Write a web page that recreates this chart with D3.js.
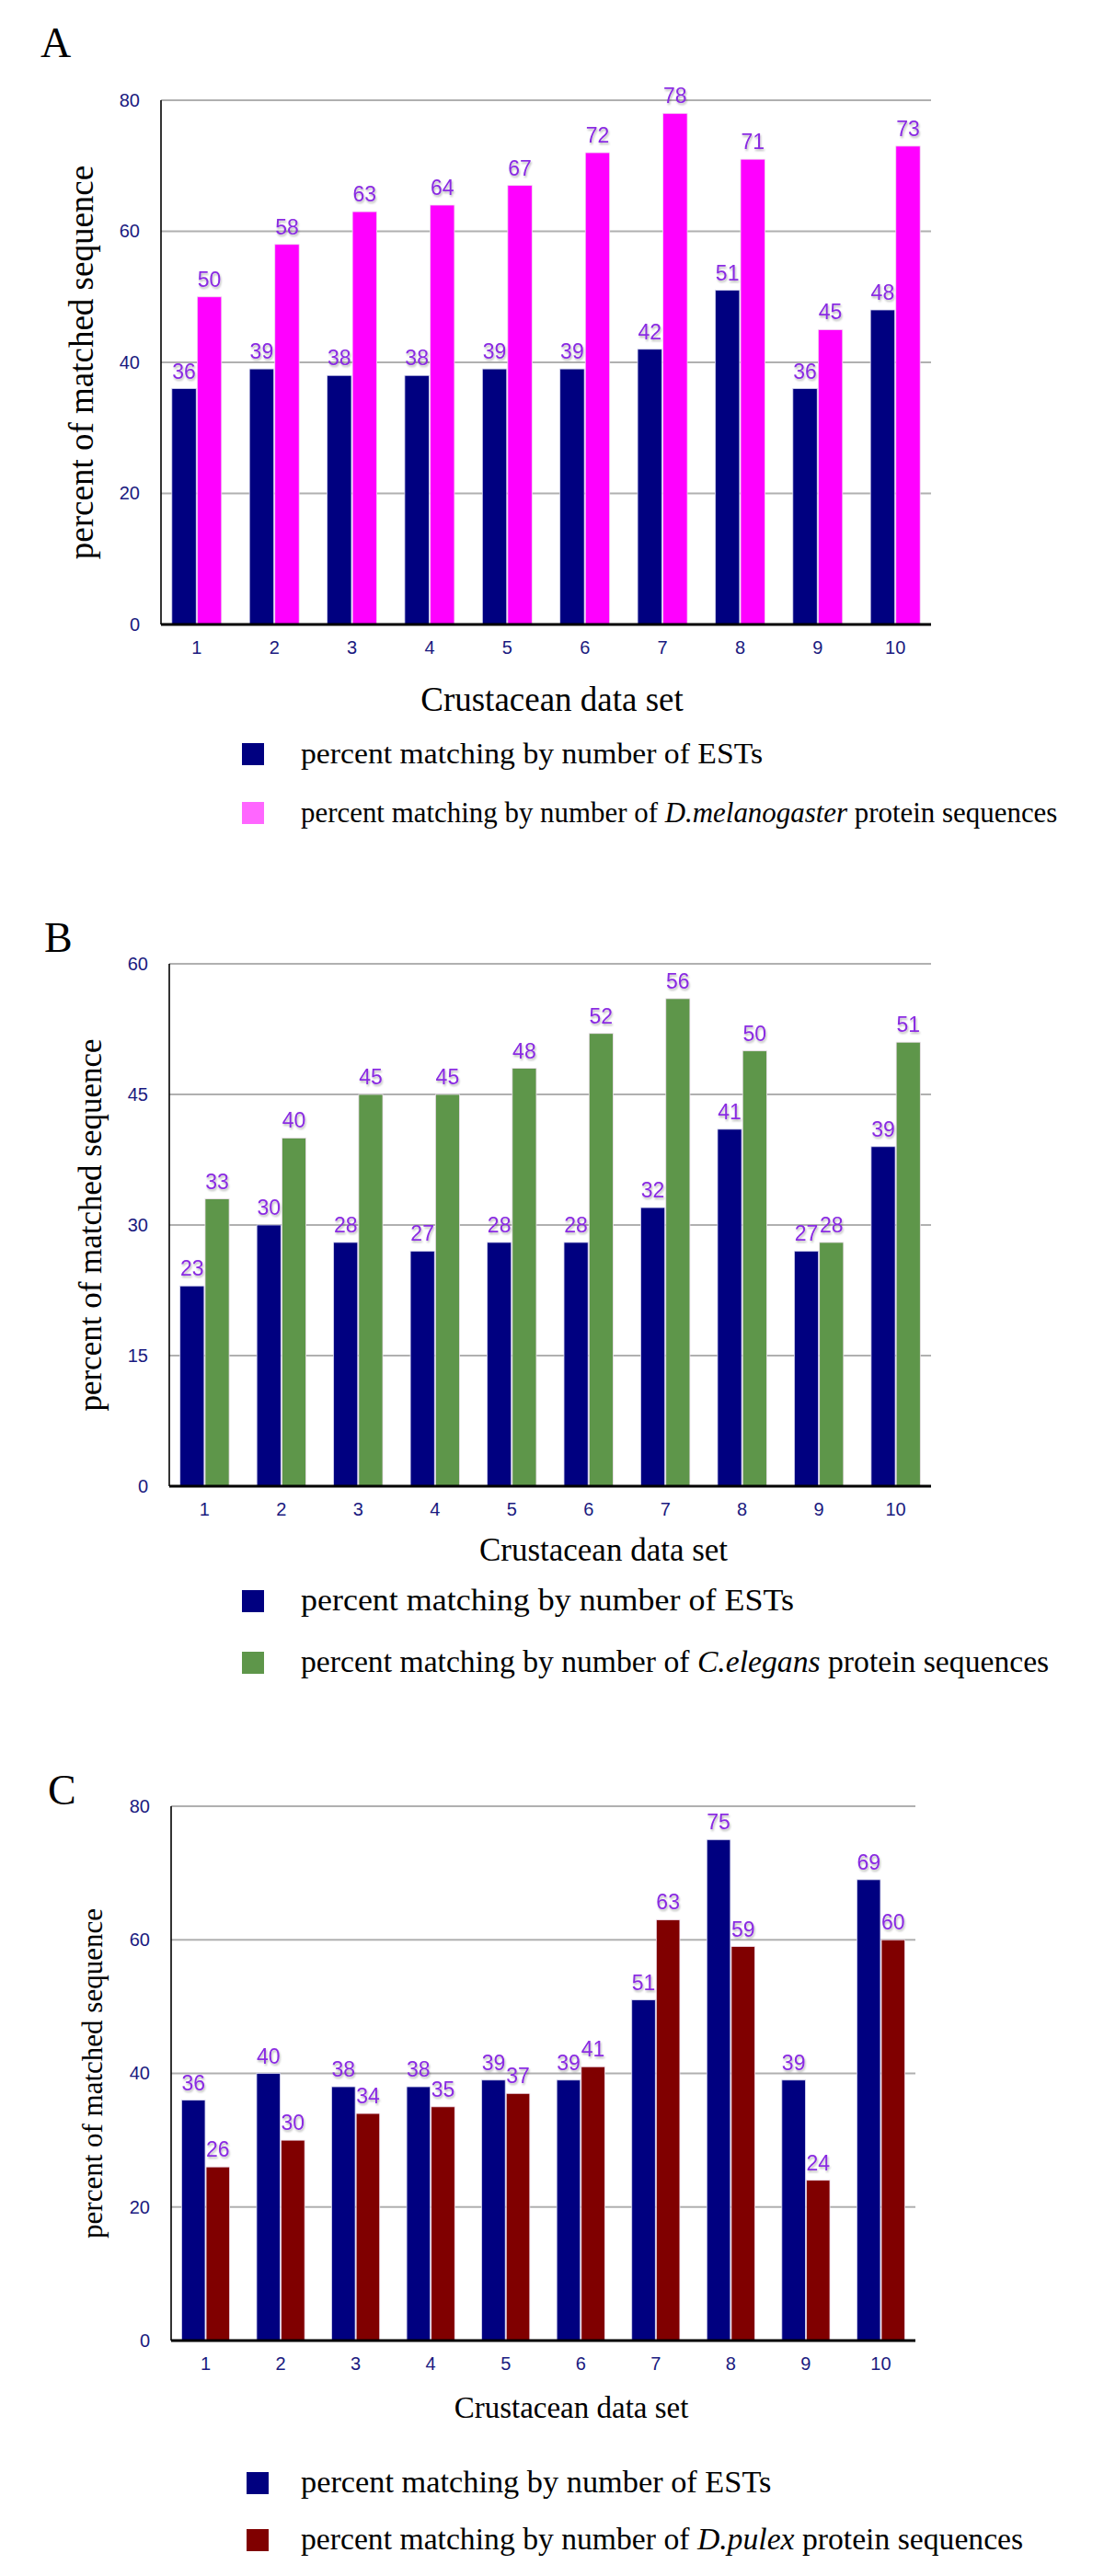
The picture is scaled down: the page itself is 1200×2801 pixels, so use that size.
<!DOCTYPE html>
<html><head><meta charset="utf-8">
<script src="https://cdn.jsdelivr.net/npm/d3@7"></script>
<style>body{margin:0;background:#fff} svg{display:block}</style>
</head><body><svg id="c" width="1200" height="2801"></svg>
<script>
// ---------- data ----------
const categories = ["1","2","3","4","5","6","7","8","9","10"];
const estA = [36,39,38,38,39,39,42,51,36,48];
const melA = [50,58,63,64,67,72,78,71,45,73];
const ticksA = [0,20,40,60,80];
const estB = [23,30,28,27,28,28,32,41,27,39];
const eleB = [33,40,45,45,48,52,56,50,28,51];
const ticksB = [0,15,30,45,60];
const estC = [36,40,38,38,39,39,51,75,39,69];
const pulC = [26,30,34,35,37,41,63,59,24,60];
const ticksC = [0,20,40,60,80];
const panelLetters = ["A","B","C"];
const yTitle = "percent of matched sequence";
const xTitle = "Crustacean data set";
const legendEST = "percent matching by number of ESTs";
const legendProtA = ["percent matching by number of ", "D.melanogaster", " protein sequences"];
const legendProtB = ["percent matching by number of ", "C.elegans", " protein sequences"];
const legendProtC = ["percent matching by number of ", "D.pulex", " protein sequences"];

// ---------- layout / style ----------
const svg = d3.select("#c");
const defs = svg.append("defs");
const f = defs.append("filter").attr("id","sh").attr("x","-20%").attr("y","-20%").attr("width","150%").attr("height","160%");
f.append("feDropShadow").attr("dx",1).attr("dy",2).attr("stdDeviation",1.2).attr("flood-color","#000").attr("flood-opacity",0.28);

const navy = "#000080";
const panels = [
  {letter:panelLetters[0], lx:44, ly:62, left:175, right:1012, top:109, bottom:679, ticks:ticksA, est:estA, prot:melA,
   col:"#ff00ff", swatch:"#ff66ff", leg:legendProtA, ylx:93, ylSize:37, titleX:600, titleY:773, titleSize:37,
   legX:263, legTextX:327, leg1Y:808, leg2Y:872, legSize:32, w1:1.053, w2:0.966},
  {letter:panelLetters[1], lx:48, ly:1035, left:184, right:1012, top:1048, bottom:1616, ticks:ticksB, est:estB, prot:eleB,
   col:"#5e964a", swatch:"#5e964a", leg:legendProtB, ylx:102, ylSize:35, titleX:656, titleY:1697, titleSize:35,
   legX:263, legTextX:327, leg1Y:1729, leg2Y:1796, legSize:33, w1:1.09, w2:1.02},
  {letter:panelLetters[2], lx:52, ly:1962, left:186, right:995, top:1964, bottom:2545, ticks:ticksC, est:estC, prot:pulC,
   col:"#800000", swatch:"#800000", leg:legendProtC, ylx:104, ylSize:31, titleX:621, titleY:2629, titleSize:33,
   legX:268, legTextX:327, leg1Y:2688, leg2Y:2750, legSize:33, w1:1.04, w2:1.02}
];

panels.forEach(p => {
  const g = svg.append("g");
  const max = p.ticks[p.ticks.length-1];
  const x = d3.scaleBand().domain(categories).range([p.left, p.right]).paddingInner(0.36).paddingOuter(0.14);
  const xs = d3.scaleBand().domain(["est","prot"]).range([0, x.bandwidth()]).paddingInner(0.04);
  const y = d3.scaleLinear().domain([0, max]).range([p.bottom, p.top]);

  // panel letter
  g.append("text").attr("x", p.lx).attr("y", p.ly).text(p.letter)
    .attr("font-family","Liberation Serif, Times New Roman, serif").attr("font-size",46).attr("fill","#000");

  // gridlines
  g.selectAll("line.grid").data(p.ticks.filter(t => t > 0)).join("line").attr("class","grid")
    .attr("x1", p.left).attr("x2", p.right).attr("y1", d => y(d)).attr("y2", d => y(d))
    .attr("stroke","#b0b0b0").attr("stroke-width",2);

  // bars
  const rows = categories.map((c,i) => ({c, est:p.est[i], prot:p.prot[i]}));
  const grp = g.selectAll("g.grp").data(rows).join("g").attr("class","grp")
    .attr("transform", d => `translate(${x(d.c)},0)`);
  grp.append("rect").attr("x", xs("est")).attr("width", xs.bandwidth())
    .attr("y", d => y(d.est)).attr("height", d => y(0) - y(d.est))
    .attr("fill", navy).attr("stroke","#d8d8f0").attr("stroke-width",0.8);
  grp.append("rect").attr("x", xs("prot")).attr("width", xs.bandwidth())
    .attr("y", d => y(d.prot)).attr("height", d => y(0) - y(d.prot))
    .attr("fill", p.col).attr("stroke","#f0e0f0").attr("stroke-width",0.8);

  // value labels
  const lab = (sel, key) => sel.append("text")
    .attr("x", xs(key) + xs.bandwidth()/2).attr("y", d => y(d[key]) - 11)
    .attr("text-anchor","middle").attr("font-family","Liberation Sans, Arial, sans-serif")
    .attr("font-size",23).attr("fill","#8a2be2").attr("filter","url(#sh)")
    .text(d => d[key]);
  lab(grp, "est"); lab(grp, "prot");

  // axes lines
  g.append("line").attr("x1",p.left).attr("x2",p.left).attr("y1",p.top).attr("y2",p.bottom)
    .attr("stroke","#000").attr("stroke-width",1.6);
  g.append("line").attr("x1",p.left).attr("x2",p.right).attr("y1",p.bottom).attr("y2",p.bottom)
    .attr("stroke","#000").attr("stroke-width",3);

  // y axis ticks
  const ya = g.append("g").attr("transform",`translate(${p.left},0)`)
    .call(d3.axisLeft(y).tickValues(p.ticks).tickSize(0).tickPadding(23));
  ya.select(".domain").remove();
  ya.selectAll("text").attr("font-family","Liberation Sans, Arial, sans-serif").attr("font-size",20).attr("fill","#1a1a80");

  // x axis ticks
  const xa = g.append("g").attr("transform",`translate(0,${p.bottom})`)
    .call(d3.axisBottom(x).tickSize(0).tickPadding(18));
  xa.select(".domain").remove();
  xa.selectAll("text").attr("font-family","Liberation Sans, Arial, sans-serif").attr("font-size",20).attr("fill","#1a1a80");

  // axis titles
  g.append("text").attr("transform",`translate(${p.ylx},${(p.top+p.bottom)/2}) rotate(-90)`)
    .attr("text-anchor","middle").attr("dominant-baseline","middle")
    .attr("font-family","Liberation Serif, Times New Roman, serif").attr("font-size",p.ylSize).text(yTitle);
  g.append("text").attr("x",p.titleX).attr("y",p.titleY).attr("text-anchor","middle")
    .attr("font-family","Liberation Serif, Times New Roman, serif").attr("font-size",p.titleSize).text(xTitle);

  // legend
  const sw = 24;
  g.append("rect").attr("x",p.legX).attr("y",p.leg1Y).attr("width",sw).attr("height",sw).attr("fill",navy);
  g.append("rect").attr("x",p.legX).attr("y",p.leg2Y).attr("width",sw).attr("height",sw).attr("fill",p.swatch);
  const t1 = g.append("text").attr("x",p.legTextX).attr("y",p.leg1Y + sw/2 + p.legSize*0.3)
    .attr("font-family","Liberation Serif, Times New Roman, serif").attr("font-size",p.legSize).text(legendEST);
  const t2 = g.append("text").attr("x",p.legTextX).attr("y",p.leg2Y + sw/2 + p.legSize*0.3)
    .attr("font-family","Liberation Serif, Times New Roman, serif").attr("font-size",p.legSize);
  t2.append("tspan").text(p.leg[0]);
  t2.append("tspan").attr("font-style","italic").text(p.leg[1]);
  t2.append("tspan").text(p.leg[2]);
  [[t1,p.w1],[t2,p.w2]].forEach(([t,k]) => {
    const L = t.node().getComputedTextLength();
    t.attr("textLength", L*k).attr("lengthAdjust","spacingAndGlyphs");
  });
});
</script></body></html>
